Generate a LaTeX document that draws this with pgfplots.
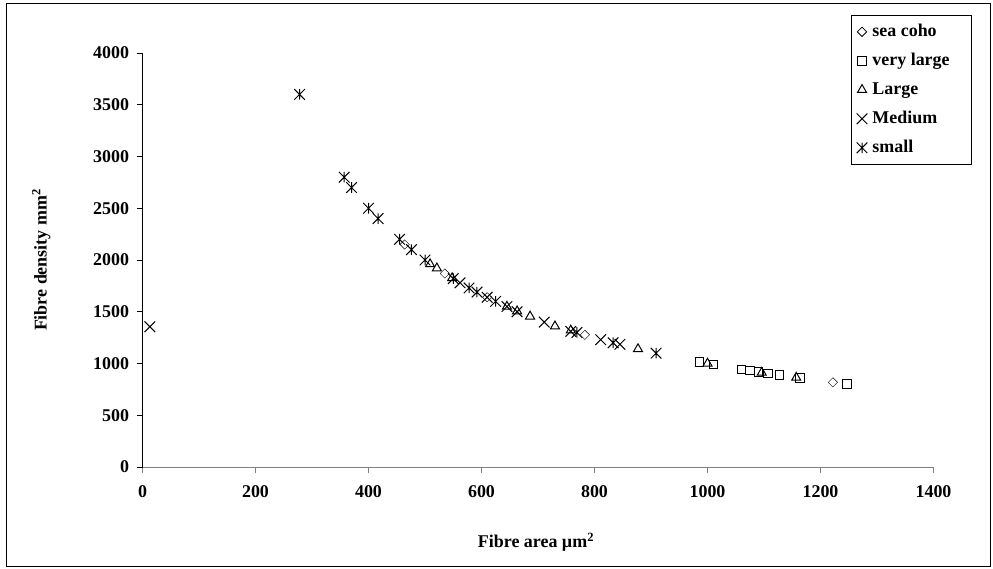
\documentclass[border=0pt]{standalone}
\usepackage{fontspec}
\setmainfont{Liberation Serif}
\usepackage{pgfplots}
\pgfplotsset{compat=1.18}

% Excel-style star: an x with a vertical bar through it
\pgfdeclareplotmark{xstar}{%
  \pgfpathmoveto{\pgfqpoint{-\pgfplotmarksize}{-\pgfplotmarksize}}%
  \pgfpathlineto{\pgfqpoint{\pgfplotmarksize}{\pgfplotmarksize}}%
  \pgfpathmoveto{\pgfqpoint{-\pgfplotmarksize}{\pgfplotmarksize}}%
  \pgfpathlineto{\pgfqpoint{\pgfplotmarksize}{-\pgfplotmarksize}}%
  \pgfpathmoveto{\pgfqpoint{0pt}{-\pgfplotmarksize}}%
  \pgfpathlineto{\pgfqpoint{0pt}{\pgfplotmarksize}}%
  \pgfusepathqstroke}

\begin{document}
\begin{tikzpicture}
\useasboundingbox (0bp,0bp) rectangle (993bp,569bp);
\draw[line width=0.8bp] (6bp,3bp) rectangle (990bp,566bp);
\begin{axis}[
  at={(142.5bp,102bp)}, anchor=south west,
  scale only axis, width=791bp, height=414bp,
  xmin=0, xmax=1400, ymin=0, ymax=4000,
  xtick={0,200,...,1400}, ytick={0,500,...,4000},
  axis x line*=bottom, axis y line*=left,
  x axis line style={draw=gray, line width=0.8bp},
  y axis line style={draw=black, line width=0.8bp},
  tick align=outside, major tick length=6bp,
  x tick style={draw=gray, line width=0.8bp},
  y tick style={draw=black, line width=0.8bp},
  /pgf/number format/assume math mode=true,
  /pgf/number format/1000 sep={},
  ticklabel style={font=\bfseries\fontsize{18}{20}\selectfont},
  xticklabel style={yshift=-9bp},
  yticklabel style={xshift=-4bp},
  xlabel={Fibre area µm\textsuperscript{2}},
  ylabel={Fibre density mm\textsuperscript{2}},
  label style={font=\bfseries\fontsize{18}{20}\selectfont},
  xlabel style={at={(ticklabel cs:0.5)}, anchor=center, yshift=-41bp, xshift=-2bp},
  ylabel style={at={(axis description cs:-0.128,0.5)}, anchor=center, rotate=0},
  every axis plot/.append style={only marks, mark options={black, line width=1bp, fill=none}},
  legend style={at={(axis description cs:0.896,1.092)}, anchor=north west,
    draw=black, line width=0.8bp, fill=white,
    font=\bfseries\fontsize{18}{20}\selectfont,
    nodes={inner sep=2bp, text height=13bp, text depth=4bp},
    row sep=8bp, inner xsep=5bp, inner ysep=6bp},
  legend cell align=left,
  legend image code/.code={\path (0bp,0bp) (13bp,0bp); \draw[#1] plot coordinates {(5bp,0bp)};},
]
\addplot[mark=square, mark size=3.3bp, mark options={rotate=45}] coordinates {
  (464,2150) (535,1870) (610,1640) (783,1277) (1222,818)
};
\addplot[mark=square, mark size=4.2bp] coordinates {
  (986,1014) (1011,989) (1060,943) (1075,930) (1090,917) (1107,903)
  (1127,887) (1164,859) (1247,802)
};
\addplot[mark=triangle, mark size=5.2bp] coordinates {
  (509,1960) (521,1920) (548,1825) (645,1550) (663,1505) (686,1455)
  (730,1360) (758,1320) (877,1140) (1000,1000) (1096,912) (1157,864)
};
\addplot[mark=x, mark size=7.5bp] coordinates {
  (13,1355) (562,1780) (610,1640) (645,1550) (663,1500) (711,1400)
  (758,1310) (811,1230) (845,1185)
};
\addplot[mark=xstar, mark size=5.3bp] coordinates {
  (278,3600) (357,2800) (370,2700) (400,2500) (417,2400) (455,2200)
  (476,2100) (500,2000) (550,1820) (578,1730) (592,1690) (625,1600)
  (769,1300) (833,1200) (909,1100)
};
\legend{\makebox[92bp][l]{sea coho}, very large, Large, Medium, small}
\end{axis}
\end{tikzpicture}
\end{document}
